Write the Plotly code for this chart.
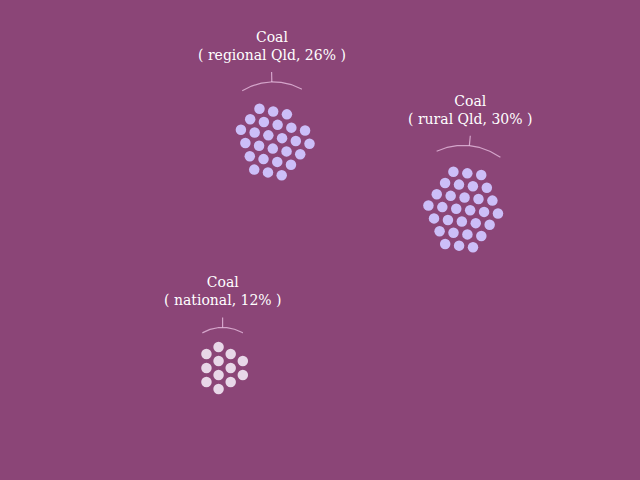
import numpy as np
import plotly.graph_objects as go

# ---- data ----
categories = ["regional Qld", "rural Qld", "national"]
fuel = ["Coal", "Coal", "Coal"]
shares = [26, 30, 12]          # percent; one dot per percentage point

# ---- layout / style ----
centers = [(273.4, 141.6), (463.2, 209.5), (222.6, 368.0)]
lattice_angle = [11.5, 6.5, 30.0]
pack_offset = [(4.8, 6.1), (5.9, 0.8), (3.0, 10.0)]   # px, selection centre vs lattice node
arc_tilt = [-1.5, 5.5, 0.0]
dot_colors = ["#CCBEF8", "#CCBEF8", "#E8D7E8"]
BG = "#8B4577"
ARC = "rgba(236,196,230,0.75)"
SPACING = 14.0


def hex_pack(n, angle_deg, offset):
    th = np.radians(angle_deg)
    a = SPACING * np.array([np.cos(th), np.sin(th)])
    b = SPACING * np.array([np.cos(th + np.pi / 3), np.sin(th + np.pi / 3)])
    R = int(np.ceil(np.sqrt(n))) + 4
    pts = np.array([i * a + j * b for j in range(-R, R + 1) for i in range(-R, R + 1)])
    d = np.hypot(pts[:, 0] - offset[0], pts[:, 1] - offset[1])
    sel = pts[np.argsort(d, kind="stable")[:n]]
    return sel - sel.mean(axis=0)


fig = go.Figure()
annotations = []
for k, cat in enumerate(categories):
    n = shares[k]
    cx, cy = centers[k]
    p = hex_pack(n, lattice_angle[k], pack_offset[k])
    fig.add_trace(go.Scatter(
        x=cx + p[:, 0], y=cy + p[:, 1], mode="markers",
        marker=dict(size=10.5, color=dot_colors[k], line=dict(width=0)),
        hoverinfo="skip", showlegend=False))

    r = 11.7 * np.sqrt(n)
    t = np.radians(arc_tilt[k])
    phi = np.radians(np.linspace(-30, 30, 61)) + t
    fig.add_trace(go.Scatter(
        x=cx + r * np.sin(phi), y=cy - r * np.cos(phi), mode="lines",
        line=dict(color=ARC, width=1.2), hoverinfo="skip", showlegend=False))
    fig.add_trace(go.Scatter(
        x=[cx + r * np.sin(t), cx + (r + 10) * np.sin(t)],
        y=[cy - r * np.cos(t), cy - (r + 10) * np.cos(t)], mode="lines",
        line=dict(color=ARC, width=1.2), hoverinfo="skip", showlegend=False))

    lx = cx + (r + 10) * np.sin(t)
    ly = cy - (r + 10) * np.cos(t) - 26
    annotations.append(dict(
        x=lx, y=ly, xref="x", yref="y", showarrow=False,
        text=f"{fuel[k]}<br>( {cat}, {n}% )", align="center",
        font=dict(family="DejaVu Serif", size=14, color="white"),
        xanchor="center", yanchor="middle"))

fig.update_layout(
    width=640, height=480, margin=dict(l=0, r=0, t=0, b=0),
    paper_bgcolor=BG, plot_bgcolor=BG,
    xaxis=dict(range=[0, 640], visible=False, fixedrange=True),
    yaxis=dict(range=[480, 0], visible=False, fixedrange=True),
    annotations=annotations, showlegend=False)

fig.write_html(
    "out.html",
    config={"displayModeBar": False},
    post_script=f"document.body.style.margin='0';document.body.style.background='{BG}';",
)
